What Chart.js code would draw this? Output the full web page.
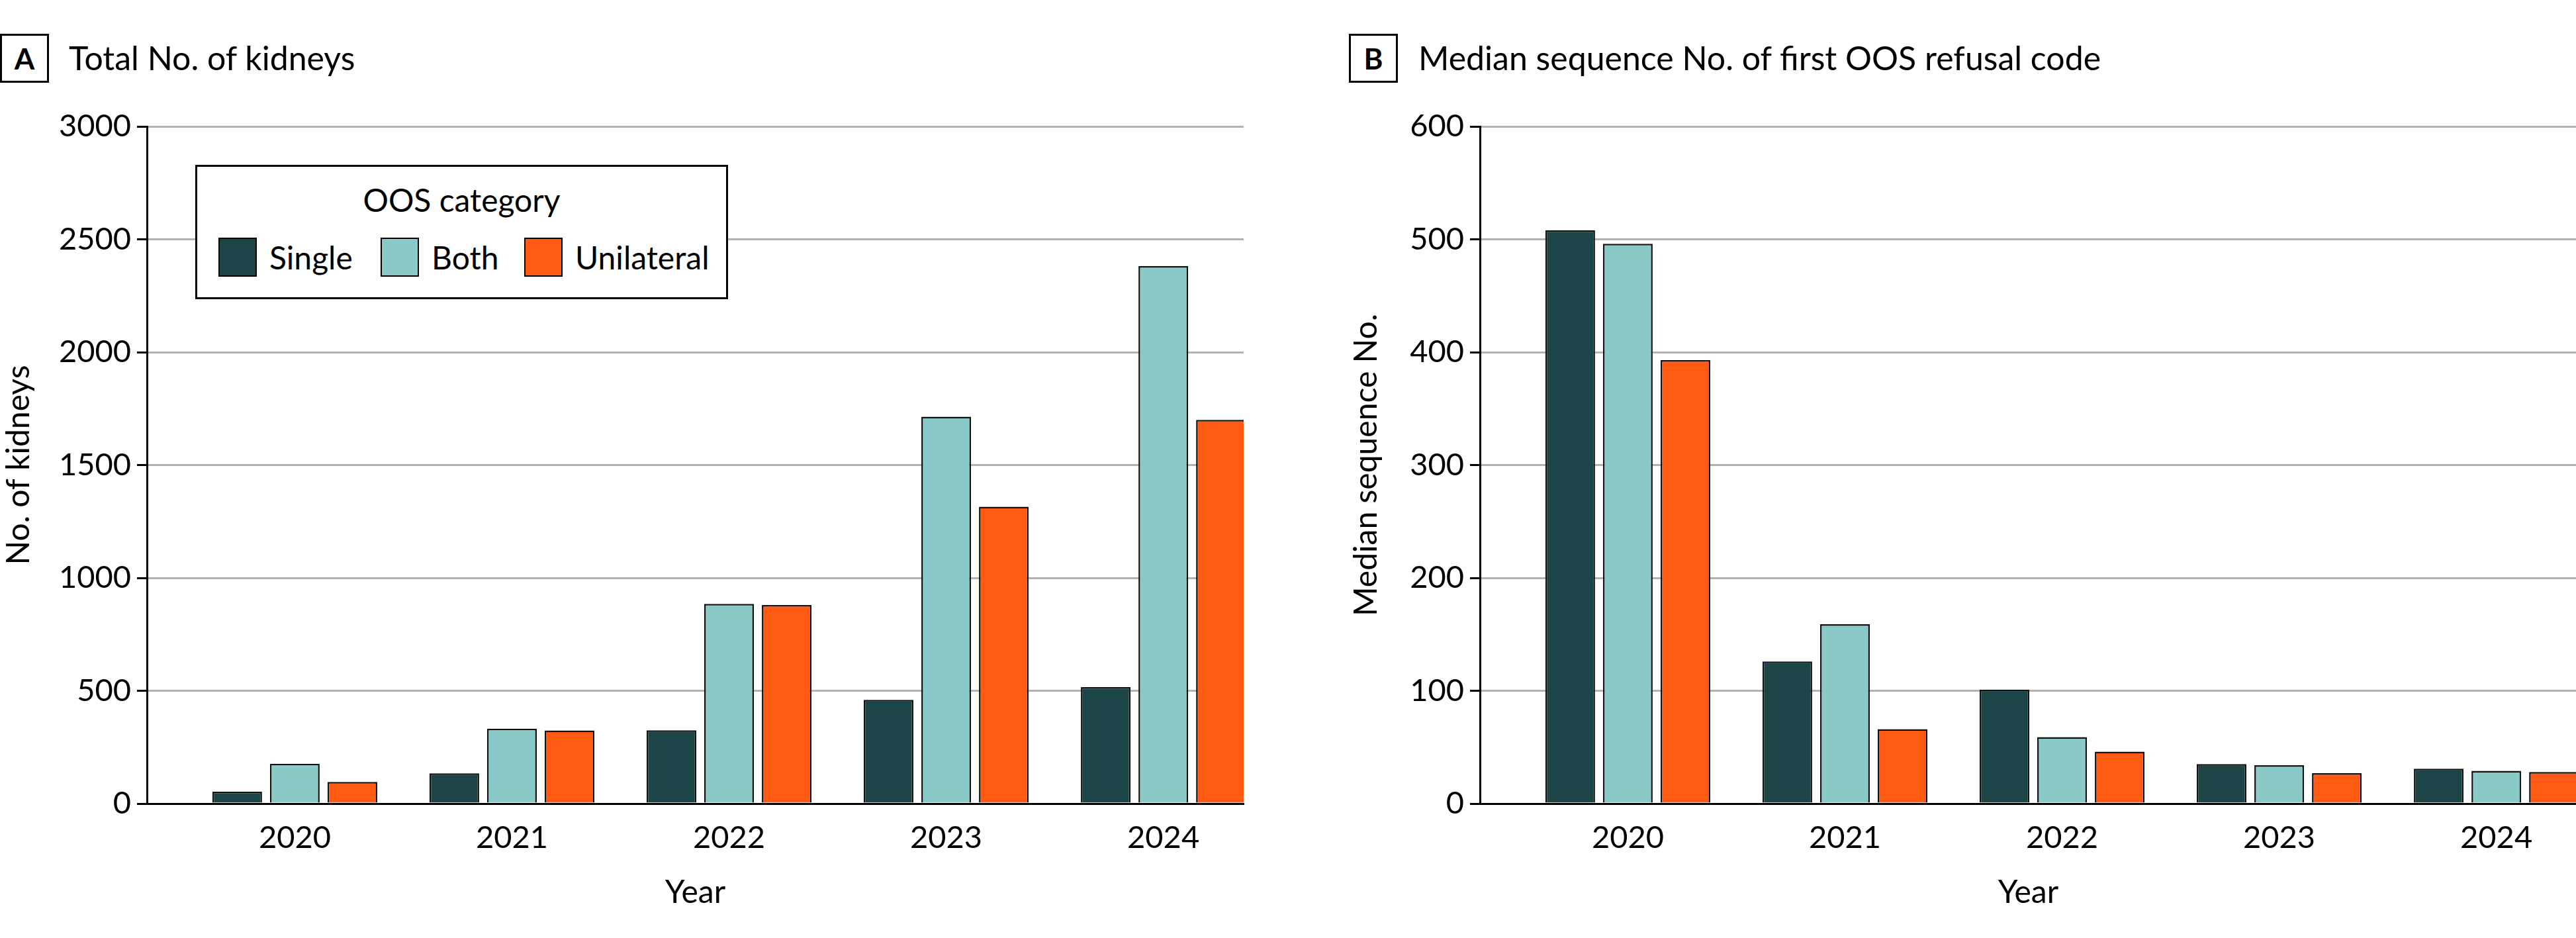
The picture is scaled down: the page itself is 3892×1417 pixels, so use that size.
<!DOCTYPE html>
<html>
<head>
<meta charset="utf-8">
<script src="https://cdn.jsdelivr.net/npm/chart.js@4.4.1/dist/chart.umd.min.js"></script>
<style>
  html, body { margin: 0; padding: 0; background: #fff; overflow: hidden; width: 3892px; height: 1417px; }
  body { position: relative; font-family: Lato, "Open Sans", sans-serif; color: #000; }
  canvas { position: absolute; top: 0; }
  .tag { position: absolute; top: 51px; width: 68px; height: 68px; border: 3px solid #000;
         font-weight: bold; font-size: 44px; line-height: 68px; text-align: center; }
  .title { position: absolute; top: 52px; font-size: 50px; line-height: 70px; white-space: nowrap; }
  .legend { position: absolute; left: 295px; top: 249px; width: 799px; height: 197px; border: 3px solid #000; background: #fff; }
  .legend .lt { position: absolute; left: 0; right: 0; top: 20px; text-align: center; font-size: 48px; line-height: 60px; }
  .legend .item { position: absolute; top: 107px; height: 60px; font-size: 48px; line-height: 60px; white-space: nowrap; }
  .legend .sw { position: absolute; left: 0; top: 0; width: 54px; height: 55px; border: 2.5px solid #000; }
  .legend .lab { position: absolute; left: 77px; top: 0; }
</style>
</head>
<body>
<div class="tag" style="left:0">A</div>
<div class="title" style="left:104px">Total No. of kidneys</div>
<div class="tag" style="left:2038px">B</div>
<div class="title" style="left:2143px">Median sequence No. of first OOS refusal code</div>
<canvas id="chartA" width="1950" height="1417" style="left:0"></canvas>
<canvas id="chartB" width="1950" height="1417" style="left:2014px"></canvas>
<div class="legend" id="legend"><div class="lt">OOS category</div></div>
<script>
const years = ["2020", "2021", "2022", "2023", "2024"];
const seriesNames = ["Single", "Both", "Unilateral"];
const seriesColors = ["#1b4546", "#89cac8", "#ff5b14"];

// A: total number of kidneys
const kidneysSingle = [53, 134, 325, 460, 516];
const kidneysBoth = [177, 332, 885, 1714, 2381];
const kidneysUnilateral = [96, 324, 880, 1315, 1700];

// B: median sequence number of first OOS refusal code
const medianSingle = [508, 126, 101, 35, 31];
const medianBoth = [496, 159, 59, 34, 29];
const medianUnilateral = [393, 66, 46, 27, 28];

const yTicksA = [0, 500, 1000, 1500, 2000, 2500, 3000];
const yTicksB = [0, 100, 200, 300, 400, 500, 600];

const FONT = "Lato, 'Open Sans', sans-serif";

function makeChart(id, seriesValues, yTicks, yTitle, yTitlePad) {
  const datasets = seriesValues.map((vals, k) => ({
    label: seriesNames[k],
    data: vals.map((v, i) => ({ x: i, y: v })),
    backgroundColor: seriesColors[k],
    borderColor: "#111",
    borderWidth: 2.5,
    categoryPercentage: 0.796,
    barPercentage: 0.862
  }));
  return new Chart(document.getElementById(id), {
    type: "bar",
    data: { datasets },
    options: {
      responsive: false,
      animation: false,
      devicePixelRatio: 1,
      layout: { padding: { top: 191, right: 71, left: 0, bottom: 0 } },
      plugins: { legend: { display: false }, tooltip: { enabled: false } },
      scales: {
        x: {
          type: "linear",
          offset: false,
          min: -0.681,
          max: 4.37,
          afterBuildTicks: s => { s.ticks = years.map((y, i) => ({ value: i })); },
          afterFit: s => { s.height = 203; s.paddingLeft = 0; s.paddingRight = 0; },
          grid: { display: false, drawTicks: false, offset: false },
          border: { display: true, color: "#000", width: 3 },
          ticks: { color: "#000", font: { family: FONT, size: 47 }, padding: 24, maxRotation: 0, autoSkip: false,
                   callback: v => years[v] },
          title: { display: true, text: "Year", color: "#000", font: { family: FONT, size: 48 }, padding: { top: 20, bottom: 40 } }
        },
        y: {
          min: yTicks[0],
          max: yTicks[yTicks.length - 1],
          afterBuildTicks: s => { s.ticks = yTicks.map(v => ({ value: v })); },
          afterFit: s => { s.width = 222; s.paddingTop = 0; s.paddingBottom = 0; },
          grid: { color: "#b3b3b3", lineWidth: 3, drawTicks: true, tickLength: 15, tickColor: "#000", tickWidth: 3 },
          border: { display: true, color: "#000", width: 3 },
          ticks: { color: "#000", font: { family: FONT, size: 47 }, padding: 9, callback: v => String(v) },
          title: { display: true, text: yTitle, color: "#000", font: { family: FONT, size: 48 }, padding: { top: yTitlePad, bottom: 0 } }
        }
      }
    }
  });
}

makeChart("chartA", [kidneysSingle, kidneysBoth, kidneysUnilateral], yTicksA, "No. of kidneys", 0);
makeChart("chartB", [medianSingle, medianBoth, medianUnilateral], yTicksB, "Median sequence No.", 22);

// HTML legend for panel A
const legend = document.getElementById("legend");
const itemLeft = [32, 277, 494];
seriesNames.forEach((name, k) => {
  const item = document.createElement("div");
  item.className = "item";
  item.style.left = itemLeft[k] + "px";
  item.innerHTML = '<div class="sw" style="background:' + seriesColors[k] + '"></div><div class="lab">' + name + "</div>";
  legend.appendChild(item);
});
</script>
</body>
</html>
